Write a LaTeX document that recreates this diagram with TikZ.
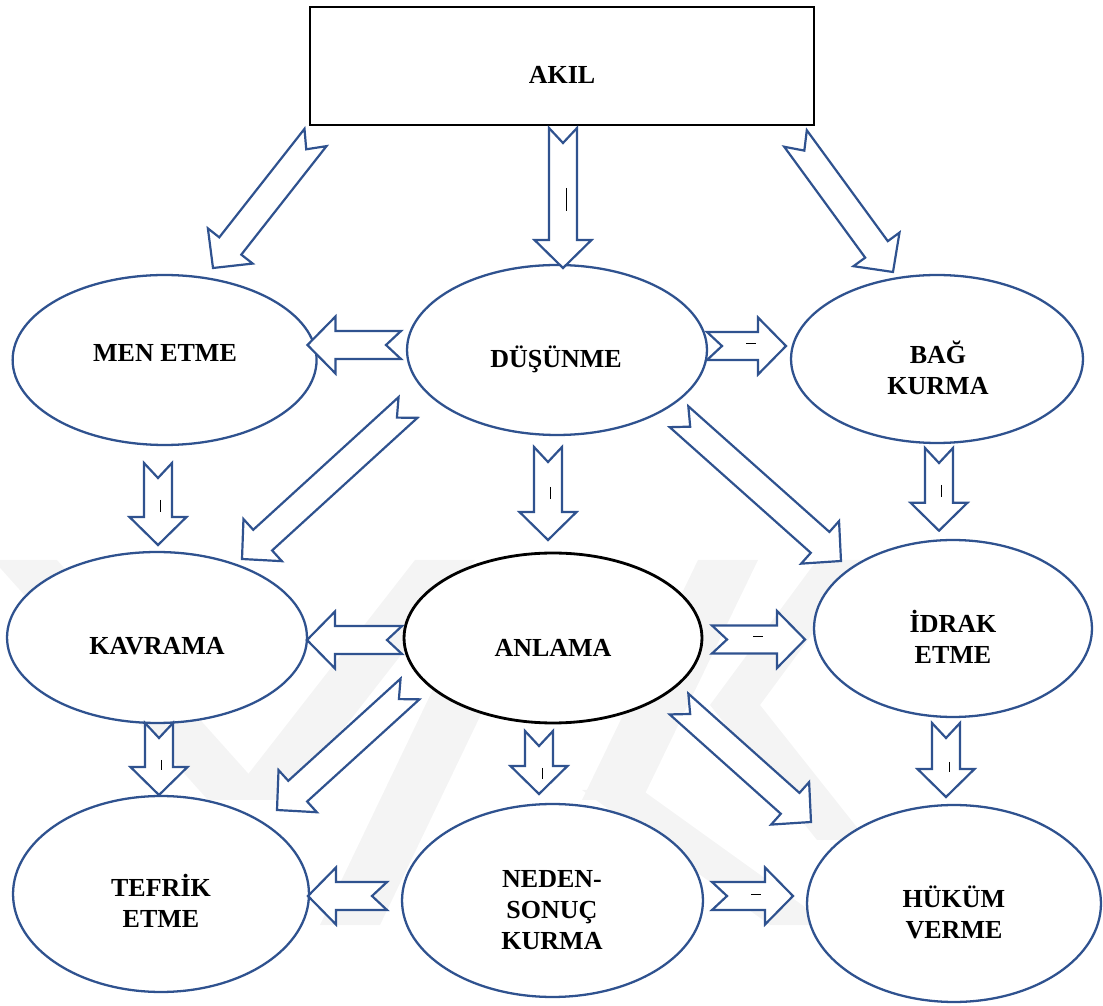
\documentclass[tikz,border=0pt]{standalone}
\usepackage{fontspec}
\setmainfont{Liberation Serif}
\usetikzlibrary{shapes.geometric,calc}

\definecolor{shapeblue}{HTML}{2F528F}
\definecolor{wmgray}{gray}{0.955}

\tikzset{
  ell/.style={draw=shapeblue, line width=1.3pt, fill=white, ellipse, inner sep=0pt},
  keyell/.style={ell, draw=black, line width=1.6pt},
  lbl/.style={font=\fontsize{14.8pt}{17.6pt}\selectfont\bfseries, align=center, inner sep=0pt},
  blockarrow/.style={draw=shapeblue, line width=1.25pt, fill=white, line join=miter},
  tick/.style={black, line width=0.5pt},
  wm/.style={fill=wmgray}
}

% notched block arrow from tail point #1 to tip point #2
\newcommand\notcharrow[2]{%
  \coordinate (nahb) at ($(#2)!0.56cm!(#1)$);
  \draw[blockarrow]
    ($(#1)!0.28cm!90:(#2)$) -- ($(nahb)!0.28cm!-90:(#1)$)
    -- ($(nahb)!0.57cm!-90:(#1)$) -- (#2)
    -- ($(nahb)!0.57cm!90:(#1)$) -- ($(nahb)!0.28cm!90:(#1)$)
    -- ($(#1)!0.28cm!-90:(#2)$) -- ($(#1)!0.3cm!(#2)$) -- cycle;}

% faint background band with flat top and bottom
\newcommand\wmband[5]{%
  \fill[wm] (#1-#5,#2) -- (#1+#5,#2) -- (#3+#5,#4) -- (#3-#5,#4) -- cycle;}

\begin{document}
\begin{tikzpicture}[x=0.02cm, y=-0.02cm]
\useasboundingbox (0,0) rectangle (1103,1006);

% background watermark bands
\wmband{25}{560}{240}{800}{32}
\wmband{445}{560}{258}{800}{30}
\wmband{525}{560}{350}{925}{30}
\wmband{728}{560}{612}{800}{30}
\wmband{612}{790}{800}{925}{30}
\wmband{842}{560}{735}{705}{25}
\wmband{735}{705}{842}{840}{25}

% top box
\node[draw=black, line width=1.5pt, fill=white, minimum width=10.08cm, minimum height=2.36cm, inner sep=0pt] (akil) at (562,66) {};
\node[lbl] (akilT) at (562,75) {AKIL};

% first row
\node[ell, minimum width=6.08cm, minimum height=3.4cm] (men) at (164.6,360) {};
\node[lbl] (menT) at (165,353) {MEN ETME};
\node[ell, minimum width=6.0cm, minimum height=3.4cm] (dus) at (557,350) {};
\node[lbl] (dusT) at (556,359) {DÜŞÜNME};
\node[ell, minimum width=5.84cm, minimum height=3.36cm] (bag) at (937,359) {};
\node[lbl] (bagT) at (938,368) {BAĞ\\KURMA};

% second row
\node[ell, minimum width=6.0cm, minimum height=3.42cm] (kav) at (157,637.5) {};
\node[lbl] (kavT) at (157,646) {KAVRAMA};
\node[keyell, minimum width=5.96cm, minimum height=3.4cm] (anl) at (553,638) {};
\node[lbl] (anlT) at (553,648) {ANLAMA};
\node[ell, minimum width=5.56cm, minimum height=3.54cm] (idr) at (953,628.5) {};
\node[lbl] (idrT) at (953,637) {İDRAK\\ETME};

% third row
\node[ell, minimum width=5.92cm, minimum height=3.92cm] (tef) at (161,894) {};
\node[lbl] (tefT) at (161,901) {TEFRİK\\ETME};
\node[ell, minimum width=6.02cm, minimum height=3.86cm] (ned) at (552.5,900.5) {};
\node[lbl] (nedT) at (552,910) {NEDEN-\\SONUÇ\\KURMA};
\node[ell, minimum width=5.88cm, minimum height=3.94cm] (huk) at (954,903.5) {};
\node[lbl] (hukT) at (954,912) {HÜKÜM\\VERME};

% arrow end points
\coordinate (s1) at (315.5,137.5);  \coordinate (e1) at (213,268);
\coordinate (s2) at (563,128);      \coordinate (e2) at (563,268);
\coordinate (s3) at (795.5,138.5);  \coordinate (e3) at (893,272);
\coordinate (s4) at (401,345);      \coordinate (e4) at (307.5,345);
\coordinate (s5) at (707,346);      \coordinate (e5) at (786,346);
\coordinate (s6) at (158,463);      \coordinate (e6) at (158,545);
\coordinate (s7) at (408,407.5);    \coordinate (e7) at (242,559);
\coordinate (s8) at (548,447);      \coordinate (e8) at (548,540);
\coordinate (s9) at (679,416.7);    \coordinate (e9) at (841,561);
\coordinate (s10) at (939,448);     \coordinate (e10) at (939,530.7);
\coordinate (s11) at (402,640);     \coordinate (e11) at (307,640);
\coordinate (s12) at (712,639.5);   \coordinate (e12) at (805,639.5);
\coordinate (s13) at (159,723);     \coordinate (e13) at (159,795);
\coordinate (s14) at (410,689);     \coordinate (e14) at (277,810);
\coordinate (s15) at (539,731);     \coordinate (e15) at (539,794);
\coordinate (s16) at (679,704);     \coordinate (e16) at (811,822);
\coordinate (s17) at (946,723);     \coordinate (e17) at (946,797);
\coordinate (s18) at (387,896);     \coordinate (e18) at (308,896);
\coordinate (s19) at (712,896);     \coordinate (e19) at (793,896);

% block arrows
\notcharrow{s1}{e1}
\notcharrow{s2}{e2}
\notcharrow{s3}{e3}
\notcharrow{s4}{e4}
\notcharrow{s5}{e5}
\notcharrow{s6}{e6}
\notcharrow{s7}{e7}
\notcharrow{s8}{e8}
\notcharrow{s9}{e9}
\notcharrow{s10}{e10}
\notcharrow{s11}{e11}
\notcharrow{s12}{e12}
\notcharrow{s13}{e13}
\notcharrow{s14}{e14}
\notcharrow{s15}{e15}
\notcharrow{s16}{e16}
\notcharrow{s17}{e17}
\notcharrow{s18}{e18}
\notcharrow{s19}{e19}

% small strokes inside some arrows
\draw[tick] (746,343) -- (756,343);
\draw[tick] (753,636) -- (763,636);
\draw[tick] (751,894) -- (761,894);
\draw[tick] (566,188) -- (566,211);
\draw[tick] (550,487) -- (550,499);
\draw[tick] (160.5,500) -- (160.5,512);
\draw[tick] (941,485) -- (941,497);
\draw[tick] (161,760) -- (161,770);
\draw[tick] (542,768) -- (542,779);
\draw[tick] (949,762) -- (949,772);
\end{tikzpicture}
\end{document}
